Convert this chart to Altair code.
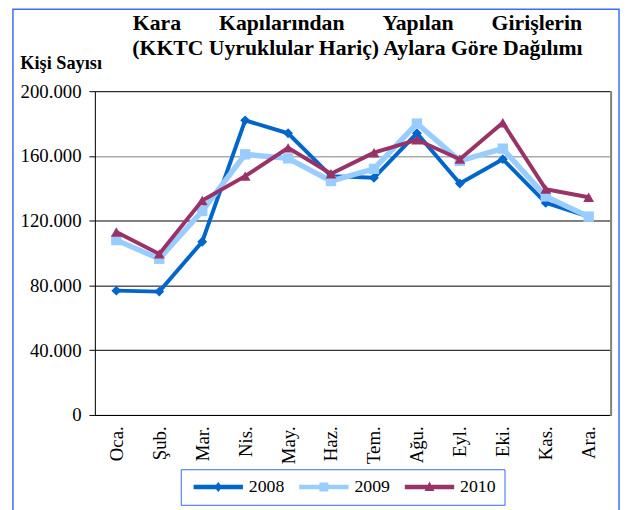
import altair as alt
import pandas as pd

months = ["Oca.", "Şub.", "Mar.", "Nis.", "May.", "Haz.", "Tem.", "Ağu.", "Eyl.", "Eki.", "Kas.", "Ara."]
years = ["2008", "2009", "2010"]
v2008 = [76800, 76200, 107000, 182000, 174000, 147500, 146500, 174000, 143000, 158000, 131000, 122500]
v2009 = [108000, 96500, 126000, 161000, 158500, 144500, 152000, 180000, 157000, 164500, 135000, 122500]
v2010 = [113000, 99500, 132500, 147500, 165000, 149000, 162000, 170000, 158000, 180500, 139500, 134500]
y_ticks = [0, 40000, 80000, 120000, 160000, 200000]

colors = ["#0066CC", "#99CCFF", "#993366"]
shapes = ["diamond", "square", "triangle-up"]
widths = [4, 5.5, 4]
sizes = [100, 110, 120]
legend_paths = [
    "M-1,-0.45L3.56,-0.45L4,-1L4.44,-0.45L9,-0.45L9,0.45L4.44,0.45L4,1L3.56,0.45L-1,0.45Z",
    "M-1,-0.45L3.1,-0.45L3.1,-0.9L4.9,-0.9L4.9,-0.45L9,-0.45L9,0.45L4.9,0.45L4.9,0.9L3.1,0.9L3.1,0.45L-1,0.45Z",
    "M-1,-0.45L3.66,-0.45L4,-1.1L4.34,-0.45L9,-0.45L9,0.45L4.82,0.45L5,0.8L3,0.8L3.18,0.45L-1,0.45Z",
]

rows = []
for yr, vals in zip(years, [v2008, v2009, v2010]):
    for m, v in zip(months, vals):
        rows.append({"month": m, "year": yr, "value": v})
df = pd.DataFrame(rows)

FONT = "Liberation Serif"
nb = "\u00a0" * 7
title_lines = [
    nb.join(["Kara", "Kapılarından", "Yapılan", "Girişlerin"]),
    "(KKTC Uyruklular Hariç) Aylara Göre Dağılımı",
]

x_enc = alt.X(
    "month:N", sort=months, title=None,
    axis=alt.Axis(labelAngle=270, ticks=False, labelPadding=11, labelFont=FONT,
                  labelFontSize=19, labelColor="black", domainColor="black", grid=False),
)
y_enc = alt.Y(
    "value:Q", scale=alt.Scale(domain=[0, 200000], nice=False),
    axis=alt.Axis(
        values=y_ticks,
        labelExpr="replace(format(datum.value, ','), regexp(',', 'g'), '.')",
        grid=True,
        gridColor=alt.condition("datum.value === 160000", alt.value("#808080"), alt.value("black")),
        gridWidth=1,
        tickSize=6, tickColor="black", domainColor="black",
        labelPadding=8, labelFont=FONT, labelFontSize=19, labelColor="black",
        title="Kişi Sayısı", titleAngle=0, titleAlign="left", titleBaseline="alphabetic",
        titleX=-76, titleY=-23, titleFont=FONT, titleFontSize=18.5, titleFontWeight="bold",
        titleColor="black",
    ),
)
legend_def = alt.Legend(
    title=None, orient="none", legendX=87, legendY=383, direction="horizontal",
    symbolSize=100, symbolStrokeWidth=0, labelOffset=42, columnPadding=11,
    labelFont=FONT, labelFontSize=18, labelColor="black", padding=9,
    strokeColor="#3366FF", fillColor="white", symbolOpacity=1,
)

base = alt.Chart(df)
layers = []
border = alt.Chart(alt.Data(values=[{}])).mark_rect(
    fillOpacity=0, stroke="#3d6cf5", strokeWidth=1.5
).encode(x=alt.value(-83), x2=alt.value(531), y=alt.value(-83), y2=alt.value(450))
layers.append(border)
right_edge = alt.Chart(alt.Data(values=[{}])).mark_rule(color="#808080", strokeWidth=2).encode(
    x=alt.value(523), y=alt.value(0), y2=alt.value(329))
layers.append(right_edge)

for yr, col, shp, w, s in zip(years, colors, shapes, widths, sizes):
    sub = base.transform_filter(alt.datum.year == yr)
    layers.append(sub.mark_line(strokeWidth=w, color=col).encode(x=x_enc, y=y_enc))
    layers.append(sub.mark_point(filled=True, opacity=1, shape=shp, size=s, color=col).encode(
        x=x_enc, y=y_enc))

legend_layer = base.transform_filter("false").mark_point(filled=True, opacity=1).encode(
    color=alt.Color("year:N", scale=alt.Scale(domain=years, range=colors), legend=legend_def),
    shape=alt.Shape("year:N", scale=alt.Scale(domain=years, range=legend_paths), legend=legend_def),
)
layers.append(legend_layer)

chart = alt.layer(*layers).properties(
    width=522, height=328,
    autosize=alt.AutoSizeParams(type="none"),
    padding={"left": 88, "top": 81, "right": 11, "bottom": 93},
    title=alt.Title(text=title_lines, font=FONT, fontSize=22, fontWeight="bold",
                    anchor="middle", frame="group", lineHeight=25, offset=0, dy=52, dx=5,
                    color="black"),
).configure_view(stroke="black", strokeWidth=1).configure(background="white")

chart.save("out.html", embed_options={"renderer": "svg", "actions": False})
